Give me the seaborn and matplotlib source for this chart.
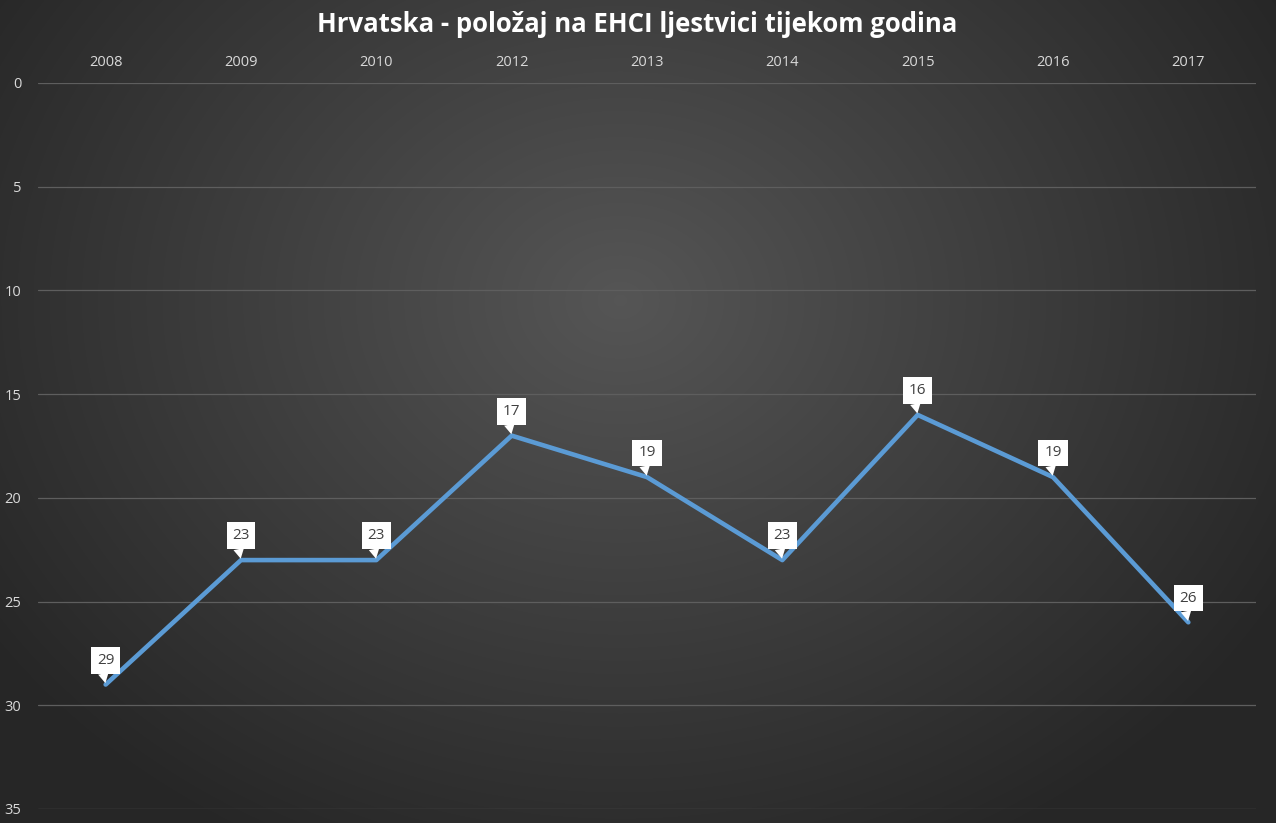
import numpy as np
import pandas as pd
import seaborn as sns
import matplotlib
matplotlib.use("Agg")
import matplotlib.pyplot as plt

# podaci: godina i položaj na EHCI ljestvici
godine = ["2008", "2009", "2010", "2012", "2013", "2014", "2015", "2016", "2017"]
polozaj = [29, 23, 23, 17, 19, 23, 16, 19, 26]
y_ticks = [0, 5, 10, 15, 20, 25, 30, 35]
naslov = "Hrvatska - položaj na EHCI ljestvici tijekom godina"

df = pd.DataFrame({"godina": godine, "polozaj": polozaj})

sns.set_theme(style="dark")
plt.rcParams["font.family"] = ["Open Sans", "DejaVu Sans"]

fig = plt.figure(figsize=(12.76, 8.23), dpi=100)

# radijalni gradijent u pozadini
bg = fig.add_axes([0, 0, 1, 1], zorder=0)
h, w = 823, 1276
yy, xx = np.mgrid[0:h, 0:w]
r = np.sqrt(((xx - 620) / 760.0) ** 2 + ((yy - 300) / 620.0) ** 2)
r = np.clip(r, 0, 1)
val = 0.335 - (0.335 - 0.15) * r
bg.imshow(np.dstack([val, val, val]), aspect="auto", extent=[0, 1, 0, 1])
bg.axis("off")

ax = fig.add_axes([38 / 1276, 1 - 809 / 823, (1256 - 38) / 1276, (809 - 83) / 823], zorder=1)
ax.set_facecolor("none")

sns.lineplot(data=df, x="godina", y="polozaj", ax=ax, color="#5B9BD5",
             linewidth=3.3, sort=False, solid_capstyle="round")

ax.set_xlim(-0.5, len(godine) - 0.5)
ax.set_ylim(35, 0)
ax.set_yticks(y_ticks)
ax.xaxis.tick_top()
ax.tick_params(axis="x", length=0, pad=9.5, labelsize=10.5, colors="#d9d9d9")
ax.tick_params(axis="y", length=0, pad=12, labelsize=10.5, colors="#d9d9d9")
ax.set_xlabel("")
ax.set_ylabel("")
ax.grid(axis="y", color="#5e5e5e", linewidth=0.9)
ax.grid(axis="x", visible=False)
for s in ax.spines.values():
    s.set_visible(False)

# oznake podataka u bijelim okvirima
for i, v in enumerate(polozaj):
    ax.annotate(str(v), xy=(i, v), xytext=(0, 17.5), textcoords="offset points",
                ha="center", va="center", fontsize=11, color="#404040",
                bbox=dict(boxstyle="square,pad=0.38", fc="white", ec="none"),
                arrowprops=dict(arrowstyle="wedge,tail_width=0.7,shrink_factor=0.5",
                                fc="white", ec="none", shrinkA=0, shrinkB=1,
                                relpos=(0.3, 0.0)),
                zorder=5)

fig.text(0.499, 1 - 24 / 823, naslov, ha="center", va="center",
         fontsize=18.5, fontweight="bold", color="white")

fig.savefig("out.png", dpi=100)
